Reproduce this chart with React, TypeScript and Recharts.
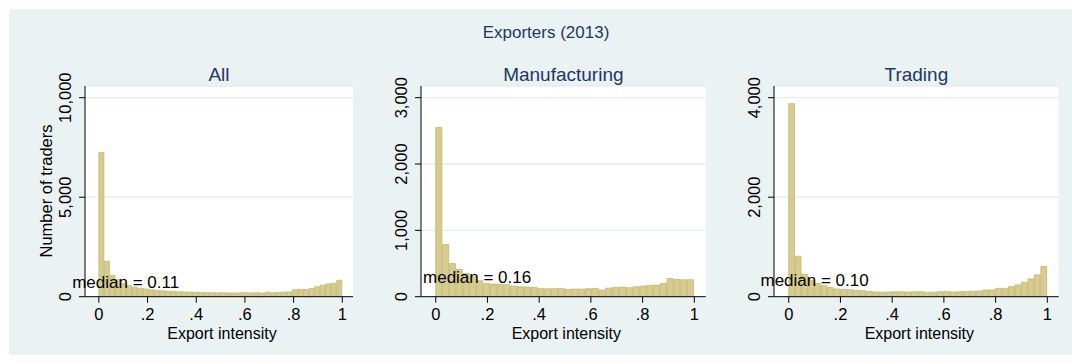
import React from 'react';
import { BarChart, Bar, XAxis, YAxis, CartesianGrid, ReferenceDot } from 'recharts';

// ---- data ----
const allCounts = [
  7250, 1780, 1080, 850, 660, 560, 480, 430, 390, 350, 320, 300, 280, 260, 250,
  240, 230, 220, 210, 200, 200, 190, 200, 190, 180, 190, 200, 190, 200, 180,
  230, 200, 210, 230, 240, 350, 370, 360, 420, 500, 580, 640, 680, 830,
];
const manufacturingCounts = [
  2550, 785, 500, 410, 350, 300, 240, 200, 190, 185, 180, 160, 150, 145, 140,
  125, 120, 120, 125, 110, 115, 115, 120, 125, 100, 130, 140, 145, 135, 150,
  160, 170, 175, 200, 275, 260, 255, 255,
];
const tradingCounts = [
  3880, 813, 453, 330, 265, 230, 185, 155, 145, 140, 130, 120, 105, 95, 90,
  95, 100, 100, 95, 100, 100, 90, 90, 100, 105, 95, 100, 105, 110, 115,
  135, 135, 168, 168, 202, 236, 290, 357, 438, 606,
];
const xTicks = [0, 0.2, 0.4, 0.6, 0.8, 1];
const xTickLabels = ['0', '.2', '.4', '.6', '.8', '1'];
const allYTicks = [0, 5000, 10000];
const manufacturingYTicks = [0, 1000, 2000, 3000];
const tradingYTicks = [0, 2000, 4000];
const panelTitles = ['All', 'Manufacturing', 'Trading'];
const medians = [0.11, 0.16, 0.1];
const medianLabels = ['median = 0.11', 'median = 0.16', 'median = 0.10'];
const medianLabelY = [720, 300, 345];
const yMaxes = [10590, 3176, 4235];
const mainTitle = 'Exporters (2013)';
const xTitle = 'Export intensity';
const yTitle = 'Number of traders';

// ---- layout ----
const W = 1072;
const H = 364;
const PLOT_TOP = 86;
const PLOT_BOTTOM = 296.7;
const Y_AXIS_W = 90;
const X_DOMAIN: [number, number] = [-0.057, 1.044];
const FONT = '"Liberation Sans", Arial, Helvetica, sans-serif';
const NAVY = '#1f3763';
const BAR_FILL = '#d6cc8f';
const BAR_STROKE = '#c4b76f';
const GRID = '#e4edf0';

const panels = [
  { left: 85, right: 353, counts: allCounts, yTicks: allYTicks },
  { left: 421, right: 705.7, counts: manufacturingCounts, yTicks: manufacturingYTicks },
  { left: 774, right: 1058.7, counts: tradingCounts, yTicks: tradingYTicks },
];

const XTick = (props: any) => {
  const { x, y, payload } = props;
  const idx = xTicks.indexOf(payload.value);
  return (
    <text x={x} y={y + 17.5} textAnchor="middle" fontSize={16.5} fill="#000" fontFamily={FONT}>
      {idx >= 0 ? xTickLabels[idx] : String(payload.value)}
    </text>
  );
};

const YTick = (props: any) => {
  const { x, y, payload } = props;
  const bx = x - 7.5;
  return (
    <text
      x={bx}
      y={y}
      transform={`rotate(-90, ${bx}, ${y})`}
      textAnchor="middle"
      fontSize={16.5}
      fill="#000"
      fontFamily={FONT}
    >
      {Number(payload.value).toLocaleString('en-US')}
    </text>
  );
};

function Panel({ idx }: { idx: number }) {
  const p = panels[idx];
  const n = p.counts.length;
  const data = p.counts.map((c, i) => ({ x: (i + 0.5) / n, count: c }));
  const plotWidth = p.right - p.left;
  const barSize = plotWidth / (X_DOMAIN[1] - X_DOMAIN[0]) / n;
  return (
    <div style={{ position: 'absolute', left: p.left - Y_AXIS_W, top: 0 }}>
      <BarChart
        width={plotWidth + Y_AXIS_W}
        height={H}
        data={data}
        margin={{ top: PLOT_TOP, right: 0, bottom: 0, left: 0 }}
        barCategoryGap={0}
        barGap={0}
        style={{ fontFamily: FONT }}
      >
        <CartesianGrid vertical={false} stroke={GRID} strokeWidth={1.3} fill="#ffffff" />
        <XAxis
          type="number"
          dataKey="x"
          domain={X_DOMAIN}
          ticks={xTicks}
          interval={0}
          allowDataOverflow
          height={H - PLOT_BOTTOM}
          tickSize={6}
          tickMargin={0}
          tick={XTick}
          axisLine={{ stroke: '#000', strokeWidth: 1 }}
          tickLine={{ stroke: '#000', strokeWidth: 1 }}
        />
        <YAxis
          type="number"
          domain={[0, yMaxes[idx]]}
          ticks={p.yTicks}
          interval={0}
          allowDataOverflow
          width={Y_AXIS_W}
          tickSize={6}
          tickMargin={0}
          tick={YTick}
          axisLine={{ stroke: '#000', strokeWidth: 1 }}
          tickLine={{ stroke: '#000', strokeWidth: 1 }}
        />
        <Bar
          dataKey="count"
          fill={BAR_FILL}
          stroke={BAR_STROKE}
          strokeWidth={0.8}
          barSize={barSize}
          isAnimationActive={false}
        />
        <ReferenceDot
          x={medians[idx]}
          y={medianLabelY[idx]}
          r={0}
          fill="none"
          stroke="none"
          label={{
            value: medianLabels[idx],
            position: 'center',
            fontSize: 17,
            fill: '#000',
            fontFamily: FONT,
          }}
        />
      </BarChart>
    </div>
  );
}

export default function App() {
  return (
    <div
      style={{
        position: 'absolute',
        left: 0,
        top: 0,
        width: W,
        height: H,
        background: '#ffffff',
        fontFamily: FONT,
        overflow: 'hidden',
      }}
    >
      <div
        style={{
          position: 'absolute',
          left: 9,
          top: 9,
          width: W - 9,
          height: 346,
          background: '#eaf2f3',
        }}
      />
      {panels.map((_, i) => (
        <Panel key={i} idx={i} />
      ))}
      <svg
        width={W}
        height={H}
        style={{ position: 'absolute', left: 0, top: 0, pointerEvents: 'none' }}
      >
        <text x={546} y={38.3} textAnchor="middle" fontSize={17} fill={NAVY} fontFamily={FONT}>
          {mainTitle}
        </text>
        {panels.map((p, i) => (
          <text
            key={'t' + i}
            x={(p.left + p.right) / 2}
            y={81}
            textAnchor="middle"
            fontSize={19}
            fill={NAVY}
            fontFamily={FONT}
          >
            {panelTitles[i]}
          </text>
        ))}
        {panels.map((p, i) => (
          <text
            key={'x' + i}
            x={(p.left + p.right) / 2 + 3}
            y={338.5}
            textAnchor="middle"
            fontSize={16}
            fill="#000"
            fontFamily={FONT}
          >
            {xTitle}
          </text>
        ))}
        <text
          x={52}
          y={191}
          transform="rotate(-90, 52, 191)"
          textAnchor="middle"
          fontSize={16.5}
          fill="#000"
          fontFamily={FONT}
        >
          {yTitle}
        </text>
      </svg>
    </div>
  );
}
